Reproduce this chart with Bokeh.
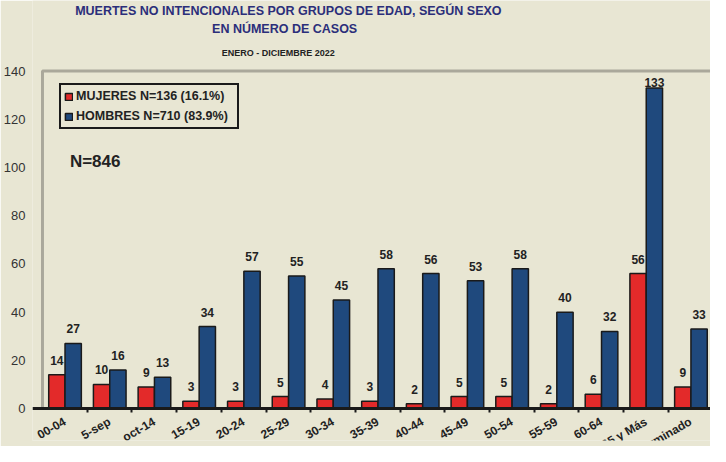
from bokeh.plotting import figure
from bokeh.models import (ColumnDataSource, Range1d, FixedTicker, LabelSet, Label, BoxAnnotation)
from bokeh.core.properties import value
from bokeh.embed import file_html
from bokeh.resources import INLINE

# ---- data ----
categories = ["00-04", "5-sep", "oct-14", "15-19", "20-24", "25-29", "30-34", "35-39",
              "40-44", "45-49", "50-54", "55-59", "60-64", "65 y Más", "Indeterminado"]
mujeres = [14, 10, 9, 3, 3, 5, 4, 3, 2, 5, 5, 2, 6, 56, 9]
hombres = [27, 16, 13, 34, 57, 55, 45, 58, 56, 53, 58, 40, 32, 133, 33]
y_ticks = [0, 20, 40, 60, 80, 100, 120, 140]
title_1 = "MUERTES NO INTENCIONALES POR GRUPOS DE EDAD, SEGÚN SEXO"
title_2 = "EN  NÚMERO DE CASOS"
subtitle = "ENERO  - DICIEMBRE 2022"
label_m = "MUJERES N=136 (16.1%)"
label_h = "HOMBRES N=710 (83.9%)"
total_label = "N=846"

BG = "#E8E6D3"
RED = "#E32A2A"
BLUE = "#1F497D"
EDGE = "#1A1A1A"
NAVY = "#2B2E7A"
FONT = "Liberation Sans"

W, H = 710, 446
LEFT = 30          # frame left (px)
BOTTOM_BORDER = 6  # space under frame (px)
PX_X = 44.84       # px per category
Y0_PX, Y140_PX = 408.1, 70.5   # canvas y of value 0 and 140
PX_Y = (Y0_PX - Y140_PX) / 140.0
FRAME_B = H - BOTTOM_BORDER

x_start = -(40.0 - LEFT) / PX_X
x_end = x_start + (W - LEFT) / PX_X
y_end = 140 + Y140_PX / PX_Y
y_start = -(FRAME_B - Y0_PX) / PX_Y

n = len(categories)
idx = list(range(n))
centers = [i + 0.5 for i in idx]
bw = 0.365
src_m = ColumnDataSource(dict(x=[i + 0.322 for i in idx], top=mujeres,
                              lab=[str(v) for v in mujeres],
                              off=[10 if v < 125 else 1 for v in mujeres]))
src_h = ColumnDataSource(dict(x=[i + 0.687 for i in idx], top=hombres,
                              lab=[str(v) for v in hombres],
                              off=[10 if v < 125 else 1 for v in hombres]))

p = figure(width=W, height=H, output_backend="svg", toolbar_location=None,
           x_range=Range1d(x_start, x_end), y_range=Range1d(y_start, y_end),
           min_border_left=LEFT, min_border_top=0, min_border_bottom=BOTTOM_BORDER,
           min_border_right=0)
p.background_fill_color = BG
p.border_fill_color = BG
p.outline_line_color = None
p.xgrid.visible = False
p.ygrid.visible = False

# plot box (left, top, bottom lines)
p.add_layout(BoxAnnotation(left=0, right=n + 1, bottom=0, top=140, fill_color=None,
                           line_color=EDGE, line_width=3, level="underlay"))

p.vbar(x="x", top="top", width=bw, source=src_m, fill_color=RED, line_color=EDGE,
       line_width=1.5, legend_label=label_m)
p.vbar(x="x", top="top", width=bw, source=src_h, fill_color=BLUE, line_color=EDGE,
       line_width=1.5, legend_label=label_h)

# value labels
for s in (src_m, src_h):
    p.add_layout(LabelSet(x="x", y="top", text="lab", source=s, y_offset="off",
                          text_align="center", text_baseline="alphabetic",
                          text_font=value(FONT), text_font_size="12px", text_font_style="bold",
                          text_color="#222222"))

# x axis drawn at y = 0, category names at centres, tick marks between categories
xa = p.xaxis[0]
xa.fixed_location = 0
xa.ticker = FixedTicker(ticks=centers, minor_ticks=list(range(1, n)))
xa.major_label_overrides = {c: lab for c, lab in zip(centers, categories)}
xa.major_label_orientation = 0.52
xa.major_label_standoff = 6
xa.major_label_text_font = FONT
xa.major_label_text_font_size = "12px"
xa.major_label_text_font_style = "bold"
xa.major_label_text_color = "#222222"
xa.major_tick_line_color = None
xa.minor_tick_out = 4
xa.minor_tick_in = 0
xa.minor_tick_line_width = 2
xa.minor_tick_line_color = EDGE
xa.axis_line_width = 3
xa.axis_line_color = EDGE

ya = p.yaxis[0]
ya.ticker = FixedTicker(ticks=y_ticks)
ya.major_tick_line_color = None
ya.minor_tick_line_color = None
ya.major_label_standoff = 1
ya.major_label_text_font = FONT
ya.major_label_text_font_size = "13px"
ya.major_label_text_color = "#333333"
ya.axis_line_color = None

def ypix(py):
    return (Y0_PX - py) / PX_Y

def xpix(px):
    return (px - 40.0) / PX_X

# titles
p.add_layout(Label(x=xpix(286.6), y=ypix(10), text=title_1, text_align="center",
                   text_baseline="middle", text_font=FONT, text_font_size="12.5px",
                   text_font_style="bold", text_color=NAVY))
p.add_layout(Label(x=xpix(284.6), y=ypix(28.5), text=title_2, text_align="center",
                   text_baseline="middle", text_font=FONT, text_font_size="12.5px",
                   text_font_style="bold", text_color=NAVY))
p.add_layout(Label(x=xpix(277.8), y=ypix(52.1), text=subtitle, text_align="center",
                   text_baseline="middle", text_font=FONT, text_font_size="9px",
                   text_font_style="bold", text_color="#222222"))
p.add_layout(Label(x=xpix(67.5), y=ypix(161.2), text=total_label, text_align="left",
                   text_baseline="middle", text_font=FONT, text_font_size="17px",
                   text_font_style="bold", text_color="#222222"))

# legend
lg = p.legend[0]
lg.location = (27, FRAME_B - 129)
lg.margin = 0
lg.border_line_color = EDGE
lg.border_line_alpha = 1
lg.border_line_width = 2.5
lg.background_fill_color = BG
lg.background_fill_alpha = 1
lg.label_text_font = FONT
lg.label_text_font_style = "bold"
lg.label_text_font_size = "12.5px"
lg.label_text_color = "#222222"
lg.glyph_width = 9
lg.glyph_height = 9
lg.padding = 3
lg.spacing = 4
lg.label_height = 16
lg.label_standoff = 3
lg.label_width = 158

open("out.html", "w").write(file_html(p, INLINE))
